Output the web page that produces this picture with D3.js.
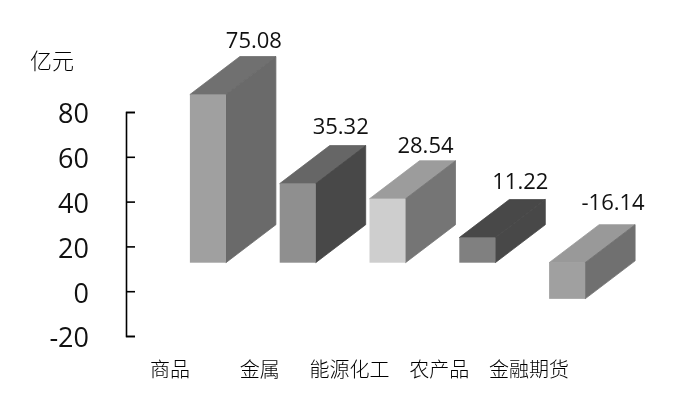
<!DOCTYPE html>
<html>
<head>
<meta charset="utf-8">
<script src="https://cdn.jsdelivr.net/npm/d3@7"></script>
<style>
  html, body { margin: 0; background: #fff; }
  svg { display: block; will-change: transform; }
  text { fill: #111; }
  .num { font-family: "Open Sans", sans-serif; }
  .cjk { font-family: "Noto Sans CJK SC", sans-serif; font-weight: 300; fill: #000; }
</style>
</head>
<body>
<div id="chart"></div>
<script>
const categories = ['商品', '金属', '能源化工', '农产品', '金融期货']
const values = [75.08, 35.32, 28.54, 11.22, -16.14]
const valueLabels = ['75.08', '35.32', '28.54', '11.22', '-16.14']
const yTicks = [-20, 0, 20, 40, 60, 80]
const unit = '亿元'

// grey shades per bar
const frontFill = ['#a0a0a0', '#8f8f8f', '#cecece', '#808080', '#a0a0a0']
const topFill = ['#707070', '#666666', '#9c9c9c', '#484848', '#999999']
const sideFill = ['#6a6a6a', '#484848', '#757575', '#484848', '#707070']

// labels sit a bit unevenly in the original
const labelDx = [46, 43, 38, 43, 46]
const labelDy = [-9, -12, -8, -11, -15]

const width = 675
const height = 403
const barWidth = 36
const depth = { x: 50, y: -38 }

const svg = d3.select('#chart').append('svg')
  .attr('width', width)
  .attr('height', height)

const y = d3.scaleLinear().domain([-20, 80]).range([336, 112])
const x = d3.scaleBand().domain(categories).range([163, 612])

// the bars are drawn from a zero line that is 28px above the axis zero
const base = 262.7
const h = v => y(0) - y(v)

const rows = categories.map((c, i) => {
  const left = x(c) + x.bandwidth() / 2 - barWidth / 2
  const top = base - h(Math.max(values[i], 0))
  const bottom = base + h(Math.max(-values[i], 0))
  return { c, i, left, right: left + barWidth, top, bottom }
})

const bars = svg.selectAll('.bar')
  .data(rows)
  .enter()
  .append('g')
  .attr('class', 'bar')

const pts = a => a.map(p => p.join(',')).join(' ')

bars.append('polygon')
  .attr('fill', d => topFill[d.i])
  .attr('stroke', d => topFill[d.i])
  .attr('stroke-width', 0.8)
  .attr('points', d => pts([
    [d.left, d.top], [d.right, d.top],
    [d.right + depth.x, d.top + depth.y], [d.left + depth.x, d.top + depth.y]
  ]))

bars.append('polygon')
  .attr('fill', d => sideFill[d.i])
  .attr('stroke', d => sideFill[d.i])
  .attr('stroke-width', 0.8)
  .attr('points', d => pts([
    [d.right, d.top], [d.right + depth.x, d.top + depth.y],
    [d.right + depth.x, d.bottom + depth.y], [d.right, d.bottom]
  ]))

bars.append('rect')
  .attr('x', d => d.left)
  .attr('y', d => d.top)
  .attr('width', barWidth)
  .attr('height', d => d.bottom - d.top)
  .attr('fill', d => frontFill[d.i])

bars.append('text')
  .attr('class', 'num')
  .attr('text-anchor', 'middle')
  .attr('font-size', 22)
  .attr('x', d => x(d.c) + x.bandwidth() / 2 + labelDx[d.i])
  .attr('y', d => d.top + depth.y + labelDy[d.i])
  .text(d => valueLabels[d.i])

// axis, ticks point inward
const axis = d3.axisLeft(y)
  .tickValues(yTicks)
  .tickFormat(d => String(d))
  .tickSize(-9)
  .tickPadding(37)

const axisG = svg.append('g')
  .attr('transform', 'translate(126,0)')
  .call(axis)

axisG.select('.domain').attr('stroke', '#000').attr('stroke-width', 1.6)
axisG.selectAll('.tick line').attr('stroke', '#000').attr('stroke-width', 1.6)
axisG.selectAll('.tick text')
  .attr('class', 'num')
  .attr('font-size', 27)
  .attr('font-family', '"Open Sans", sans-serif')
  .attr('fill', '#111')
  .attr('dy', '0.4em')

svg.append('text')
  .attr('class', 'cjk')
  .attr('x', 30)
  .attr('y', 69)
  .attr('font-size', 22)
  .text(unit)

// category names are offset to the left of their bars
svg.selectAll('.cat')
  .data(categories)
  .enter()
  .append('text')
  .attr('class', 'cat cjk')
  .attr('text-anchor', 'middle')
  .attr('font-size', 20)
  .attr('x', d => x(d) + x.bandwidth() / 2 - 38)
  .attr('y', 377)
  .text(d => d)
</script>
</body>
</html>
